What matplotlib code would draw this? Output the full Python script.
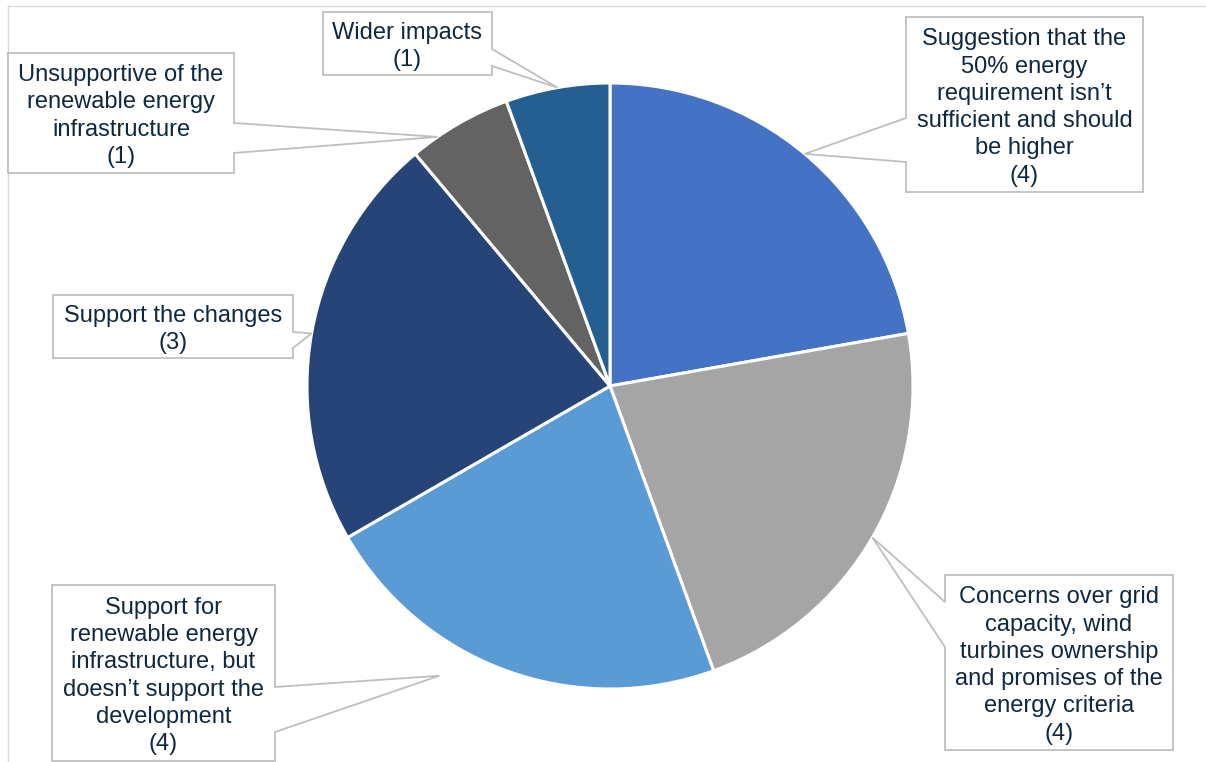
import numpy as np
import matplotlib.pyplot as plt
from matplotlib.patches import Polygon

plt.rcParams['font.family'] = ['Liberation Sans', 'DejaVu Sans']

# data: slices clockwise from 12 o'clock
categories = [
    'Suggestion that the\n50% energy\nrequirement isn\u2019t\nsufficient and should\nbe higher',
    'Concerns over grid\ncapacity, wind\nturbines ownership\nand promises of the\nenergy criteria',
    'Support for\nrenewable energy\ninfrastructure, but\ndoesn\u2019t support the\ndevelopment',
    'Support the changes',
    'Unsupportive of the\nrenewable energy\ninfrastructure',
    'Wider impacts',
]
values = [4, 4, 4, 4, 1, 1]
counts = [4, 4, 4, 3, 1, 1]   # counts as printed on the labels
colors = ['#4472C4', '#A5A5A5', '#5B9BD5', '#264478', '#636363', '#255E91']

W, H = 1206, 762
cx, cy, R = 610, H - 386, 303

# callout boxes in pixel coords (x0, y0, x1, y1), pointer side and base span
boxes = [
    (906, 17, 1143, 192, 'left', 118, 162),
    (945, 575, 1173, 750, 'left', 602, 647),
    (52, 585, 275, 761, 'right', 687, 732),
    (53, 295, 293, 358, 'right', 332, 348),
    (8, 53, 234, 173, 'right', 123, 153),
    (323, 12, 492, 75, 'right', 49, 66),
]
# tip tweaks (extra angle in degrees, radius factor)
tip_adjust = {2: (-10.5, 1.11), 4: (4.7, 1.0)}

text_color = '#0E2841'
line_color = '#BFBFBF'

fig = plt.figure(figsize=(W / 100, H / 100), dpi=100)
ax = fig.add_axes([0, 0, 1, 1])

wedges, _ = ax.pie(values, colors=colors, startangle=90, counterclock=False,
                   center=(cx, cy), radius=R,
                   wedgeprops=dict(edgecolor='white', linewidth=2.2))

ax.set_xlim(0, W)
ax.set_ylim(0, H)
ax.set_aspect('equal')
ax.axis('off')

# chart area border (clipped)
ax.plot([8, W], [H - 6, H - 6], color='#D9D9D9', lw=1, zorder=0)
ax.plot([8, 8], [0, H - 6], color='#D9D9D9', lw=1, zorder=0)

for i, (w, lab, n) in enumerate(zip(wedges, categories, counts)):
    x0, y0, x1, y1, side, ya, yb = boxes[i]
    mid = (w.theta1 + w.theta2) / 2
    dang, rf = tip_adjust.get(i, (0, 1.0))
    a = np.deg2rad(mid + dang)
    tx, ty = cx + R * rf * np.cos(a), cy + R * rf * np.sin(a)
    if side == 'right':
        pts = [(x0, y0), (x1, y0), (x1, ya), (None, None), (x1, yb), (x1, y1), (x0, y1)]
    else:
        pts = [(x0, y0), (x1, y0), (x1, y1), (x0, y1), (x0, yb), (None, None), (x0, ya)]
    poly = []
    for px, py in pts:
        if px is None:
            poly.append((tx, ty))
        else:
            poly.append((px, H - py))
    ax.add_patch(Polygon(poly, closed=True, facecolor='white', edgecolor=line_color,
                         lw=1.3, zorder=3))
    ax.text((x0 + x1) / 2, H - (y0 + y1) / 2 - 3, f'{lab}\n({n})', ha='center', va='center',
            fontsize=17, color=text_color, linespacing=1.31, zorder=4)

fig.savefig('out.png', dpi=100, facecolor='white')
